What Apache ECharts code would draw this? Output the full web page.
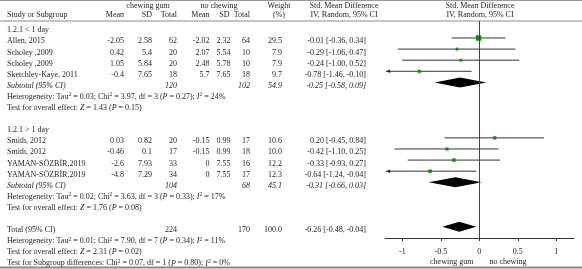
<!DOCTYPE html>
<html><head><meta charset="utf-8">
<script src="https://cdn.jsdelivr.net/npm/echarts@6/dist/echarts.min.js"></script>
<style>html,body{margin:0;padding:0;background:#fff}#c{width:582px;height:269px}</style>
</head><body><div id="c"></div>
<script>
// ---- data ----
const studies1 = ['Allen, 2015', 'Scholey ,2009', 'Scholey ,2009', 'Sketchley-Kaye, 2011'];
const cgMean1 = [-2.05, 0.42, 1.05, -0.4];
const cgSD1 = [2.58, 5.4, 5.84, 7.65];
const cgN1 = [62, 20, 20, 18];
const ncMean1 = [-2.02, 2.07, 2.48, 5.7];
const ncSD1 = [2.32, 5.54, 5.78, 7.65];
const ncN1 = [64, 10, 10, 18];
const weight1 = [29.5, 7.9, 7.9, 9.7];
const smd1 = [-0.01, -0.29, -0.24, -0.78];
const lo1 = [-0.36, -1.06, -1.00, -1.46];
const hi1 = [0.34, 0.47, 0.52, -0.10];
const sub1 = { cgN: 120, ncN: 102, weight: 54.9, smd: -0.25, lo: -0.58, hi: 0.09 };

const studies2 = ['Smith, 2012', 'Smith, 2012', 'YAMAN-SÖZBİR,2019', 'YAMAN-SÖZBİR,2019'];
const cgMean2 = [0.03, -0.46, -2.6, -4.8];
const cgSD2 = [0.82, 0.1, 7.93, 7.29];
const cgN2 = [20, 17, 33, 34];
const ncMean2 = [-0.15, -0.15, 0, 0];
const ncSD2 = [0.99, 0.99, 7.55, 7.55];
const ncN2 = [17, 18, 16, 17];
const weight2 = [10.6, 10.0, 12.2, 12.3];
const smd2 = [0.20, -0.42, -0.33, -0.64];
const lo2 = [-0.45, -1.10, -0.93, -1.24];
const hi2 = [0.84, 0.25, 0.27, -0.04];
const sub2 = { cgN: 104, ncN: 68, weight: 45.1, smd: -0.31, lo: -0.66, hi: 0.03 };

const total = { cgN: 224, ncN: 170, weight: 100.0, smd: -0.26, lo: -0.48, hi: -0.04 };

const groupLabels = ['1.2.1 < 1 day', '1.2.1 > 1 day'];
const het1 = 'Heterogeneity: Tau{s|2} = 0.03; Chi{s|2} = 3.97, df = 3 ({i|P} = 0.27); {i|I}{s|2} = 24%';
const eff1 = 'Test for overall effect: {i|Z} = 1.43 ({i|P} = 0.15)';
const het2 = 'Heterogeneity: Tau{s|2} = 0.02; Chi{s|2} = 3.63, df = 3 ({i|P} = 0.33); {i|I}{s|2} = 17%';
const eff2 = 'Test for overall effect: {i|Z} = 1.76 ({i|P} = 0.08)';
const hetT = 'Heterogeneity: Tau{s|2} = 0.01; Chi{s|2} = 7.90, df = 7 ({i|P} = 0.34); {i|I}{s|2} = 11%';
const effT = 'Test for overall effect: {i|Z} = 2.31 ({i|P} = 0.02)';
const subDiff = 'Test for Subgroup differences: Chi{s|2} = 0.07, df = 1 ({i|P} = 0.80); {i|I}{s|2} = 0%';
const tickValues = [-1, -0.5, 0, 0.5, 1];
const footLeft = 'chewing gum', footRight = 'no chewing';

// ---- layout ----
const FONT = '"Liberation Serif", "DejaVu Serif", serif';
const TXT = '#1e1e1e';
const XMIN = -1.225, XMAX = 1.23;
const rowY = r => 30.3 + 11.1 * r;
const COL = { study: 7, cgMean: 124, cgSD: 152, cgN: 177, ncMean: 209.5, ncSD: 230.5, ncN: 250, w: 282, smd: 366 };
const rich = {
  s: { fontSize: 5.5, verticalAlign: 'top', lineHeight: 6, fontFamily: FONT, fill: TXT },
  i: { fontStyle: 'italic', fontFamily: FONT, fontSize: 8, fill: TXT }
};
const f2 = v => v.toFixed(2);
const ci = (e, l, h) => f2(e) + ' [' + f2(l) + ', ' + f2(h) + ']';

const gfx = [];
function txt(x, y, s, align, extra) {
  gfx.push({ type: 'text', x: x, y: y, silent: true,
    style: Object.assign({ text: s, fill: TXT, fontSize: 8, fontFamily: FONT,
      align: align || 'left', verticalAlign: 'middle', lineHeight: 10, rich: rich }, extra || {}) });
}
function line(x1, y1, x2, y2, color, w) {
  gfx.push({ type: 'line', silent: true, shape: { x1: x1, y1: y1, x2: x2, y2: y2 },
    style: { stroke: color, lineWidth: w } });
}
// borders
line(0, 0.5, 582, 0.5, '#9a9a9a', 1);
line(0, 21, 582, 21, '#8a8a8a', 1);
line(0, 267.5, 582, 267.5, '#8a8a8a', 2);
// headers
txt(148, 5.5, 'chewing gum', 'center');
txt(219, 5.5, 'no chewing', 'center');
txt(279, 5.5, 'Weight', 'center');
txt(279, 15, '(%)', 'center');
txt(344, 5.5, 'Std. Mean Difference', 'center');
txt(344, 15, 'IV, Random, 95% CI', 'center');
txt(480, 5.5, 'Std. Mean Difference', 'center');
txt(480, 15, 'IV, Random, 95% CI', 'center');
txt(COL.study, 15, 'Study or Subgroup');
txt(COL.cgMean, 15, 'Mean', 'right');
txt(COL.cgSD, 15, 'SD', 'right');
txt(COL.cgN, 15, 'Total', 'right');
txt(COL.ncMean, 15, 'Mean', 'right');
txt(COL.ncSD - 1, 15, 'SD', 'right');
txt(COL.ncN, 15, 'Total', 'right');

const studyPts = [];
const diamonds = [];
function group(start, label, names, cm, cs, cn, nm, ns, nn, w, e, l, h, sub, het, eff) {
  txt(COL.study, rowY(start), label);
  for (let k = 0; k < names.length; k++) {
    const y = rowY(start + 1 + k);
    txt(COL.study, y, names[k]);
    txt(COL.cgMean, y, String(cm[k]), 'right');
    txt(COL.cgSD, y, String(cs[k]), 'right');
    txt(COL.cgN, y, String(cn[k]), 'right');
    txt(COL.ncMean, y, String(nm[k]), 'right');
    txt(COL.ncSD, y, String(ns[k]), 'right');
    txt(COL.ncN, y, String(nn[k]), 'right');
    txt(COL.w, y, w[k].toFixed(1), 'right');
    txt(COL.smd, y, ci(e[k], l[k], h[k]), 'right');
    studyPts.push([e[k], l[k], h[k], start + 1 + k, w[k]]);
  }
  const rs = start + 1 + names.length;
  const it = { fontStyle: 'italic' };
  txt(COL.study, rowY(rs), 'Subtotal (95% CI)', 'left', it);
  txt(COL.cgN, rowY(rs), String(sub.cgN), 'right', it);
  txt(COL.ncN, rowY(rs), String(sub.ncN), 'right', it);
  txt(COL.w, rowY(rs), sub.weight.toFixed(1), 'right', it);
  txt(COL.smd, rowY(rs), ci(sub.smd, sub.lo, sub.hi), 'right', it);
  diamonds.push([sub.smd, sub.lo, sub.hi, rs]);
  txt(COL.study, rowY(rs + 1), het);
  txt(COL.study, rowY(rs + 2), eff);
}
group(0, groupLabels[0], studies1, cgMean1, cgSD1, cgN1, ncMean1, ncSD1, ncN1, weight1, smd1, lo1, hi1, sub1, het1, eff1);
group(9, groupLabels[1], studies2, cgMean2, cgSD2, cgN2, ncMean2, ncSD2, ncN2, weight2, smd2, lo2, hi2, sub2, het2, eff2);
txt(COL.study, rowY(18), 'Total (95% CI)');
txt(COL.cgN, rowY(18), String(total.cgN), 'right');
txt(COL.ncN, rowY(18), String(total.ncN), 'right');
txt(COL.w, rowY(18), total.weight.toFixed(1), 'right');
txt(COL.smd, rowY(18), ci(total.smd, total.lo, total.hi), 'right');
diamonds.push([total.smd, total.lo, total.hi, 18]);
txt(COL.study, rowY(19), hetT);
txt(COL.study, rowY(20), effT);
txt(COL.study, rowY(21), subDiff);
txt(451.7, 262, footLeft, 'center');
txt(508, 262, footRight, 'center');

const chart = echarts.init(document.getElementById('c'), null, { renderer: 'canvas' });
chart.setOption({
  animation: false,
  backgroundColor: '#fff',
  grid: { left: 385, right: 8, top: 21, bottom: 31 },
  xAxis: {
    type: 'value', min: XMIN, max: XMAX,
    splitLine: { show: false },
    axisLine: { onZero: false, lineStyle: { color: '#333', width: 1 } },
    axisTick: { customValues: tickValues, length: 3, lineStyle: { color: '#333' } },
    axisLabel: { customValues: tickValues, color: TXT, fontFamily: FONT, fontSize: 8, margin: 10,
      formatter: v => String(v) }
  },
  yAxis: { type: 'value', inverse: true, min: -0.53, max: 19.02, show: false },
  series: [
    {
      type: 'custom', data: studyPts, clip: false,
      renderItem: function (params, api) {
        const e = api.value(0), l = api.value(1), h = api.value(2), r = api.value(3), w = api.value(4);
        const tipV = -1.21;
        const arrow = l < XMIN;
        const p0 = api.coord([arrow ? tipV : l, r]);
        const p1 = api.coord([h, r]);
        const pc = api.coord([e, r]);
        const sz = Math.sqrt(w) * 1.0;
        const ch = [
          { type: 'line', shape: { x1: p0[0], y1: p0[1], x2: p1[0], y2: p1[1] }, style: { stroke: '#333', lineWidth: 1 } },
          { type: 'rect', shape: { x: pc[0] - sz / 2, y: pc[1] - sz / 2, width: sz, height: sz }, style: { fill: '#0f8a12' } }
        ];
        if (arrow) {
          ch.push({ type: 'polygon', shape: { points: [[p0[0], p0[1]], [p0[0] + 4, p0[1] - 1.8], [p0[0] + 4, p0[1] + 1.8]] }, style: { fill: '#222' } });
        }
        return { type: 'group', children: ch };
      },
      markLine: {
        silent: true, symbol: 'none', label: { show: false },
        lineStyle: { color: '#444', width: 1, type: 'solid' },
        data: [{ xAxis: 0 }]
      }
    },
    {
      type: 'custom', data: diamonds, clip: false,
      renderItem: function (params, api) {
        const e = api.value(0), l = api.value(1), h = api.value(2), r = api.value(3);
        const pl = api.coord([l, r]), ph = api.coord([h, r]), pe = api.coord([e, r]);
        const hh = 5;
        return { type: 'polygon', shape: { points: [[pl[0], pl[1]], [pe[0], pe[1] - hh], [ph[0], ph[1]], [pe[0], pe[1] + hh]] },
          style: { fill: '#000', stroke: null } };
      }
    }
  ],
  graphic: gfx
});
</script></body></html>
